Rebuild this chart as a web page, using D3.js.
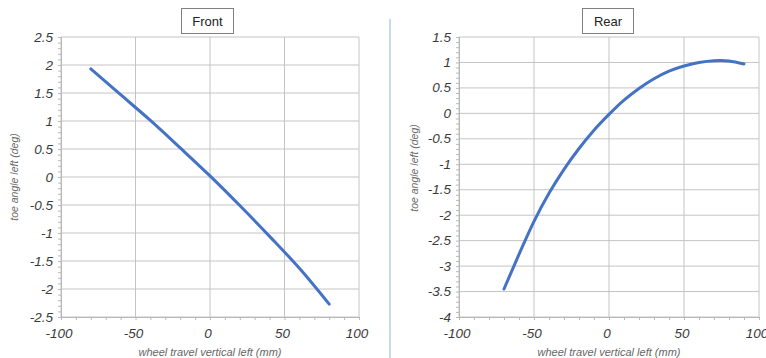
<!DOCTYPE html>
<html>
<head>
<meta charset="utf-8">
<script src="https://cdn.jsdelivr.net/npm/d3@7"></script>
<style>
  body { margin: 0; background: #fff; }
  text { font-family: "Liberation Sans", Arial, sans-serif; }
</style>
</head>
<body>
<script>
// data
var frontTravel = [-80, -60, -40, -20, 0, 20, 40, 60, 80];
var frontToe    = [1.93, 1.47, 1.01, 0.52, 0.02, -0.51, -1.06, -1.63, -2.27];

var rearTravel = [-70, -60, -50, -40, -30, -20, -10, 0, 10, 20, 30, 40, 50, 60, 70, 80, 90];
var rearToe    = [-3.45, -2.77, -2.12, -1.57, -1.1, -0.69, -0.33, -0.02, 0.26, 0.49, 0.68, 0.83, 0.93, 1.0, 1.035, 1.03, 0.97];

var xTicks = [-100, -50, 0, 50, 100];
var frontYTicks = d3.range(-2.5, 2.51, 0.5);
var rearYTicks = d3.range(-4, 1.51, 0.5);

var xLabel = "wheel travel vertical left (mm)";
var yLabel = "toe angle left (deg)";

var width = 766, height = 358;

var svg = d3.select("body").append("svg")
    .attr("width", width)
    .attr("height", height);

// thin blue divider between the two charts
svg.append("line")
    .attr("x1", 390).attr("x2", 390)
    .attr("y1", 19).attr("y2", height)
    .attr("stroke", "#b4cfe8")
    .attr("stroke-width", 1.5);

function drawChart(opt) {
    var x = d3.scaleLinear().domain([-100, 100]).range([opt.left, opt.right]);
    var y = d3.scaleLinear().domain(opt.yDomain).range([opt.bottom, opt.top]);
    var g = svg.append("g");

    // grid
    g.selectAll(".vg").data(xTicks).enter().append("line")
        .attr("x1", d => x(d)).attr("x2", d => x(d))
        .attr("y1", opt.top).attr("y2", opt.bottom)
        .attr("stroke", "#c4c4c4").attr("stroke-width", 1);
    g.selectAll(".hg").data(opt.yTicks).enter().append("line")
        .attr("x1", opt.left).attr("x2", opt.right)
        .attr("y1", d => y(d)).attr("y2", d => y(d))
        .attr("stroke", "#c4c4c4").attr("stroke-width", 1);

    // axes with minor ticks
    var xAxis = d3.axisBottom(x).tickValues(d3.range(-100, 101, 10))
        .tickSize(3).tickFormat("");
    g.append("g").attr("transform", "translate(0," + opt.bottom + ")")
        .call(xAxis)
        .call(a => a.selectAll("line, path").attr("stroke", "#b8b8b8"));

    var yAxis = d3.axisLeft(y).tickValues(d3.range(opt.yDomain[0], opt.yDomain[1] + 0.001, 0.1))
        .tickSize(3).tickFormat("");
    g.append("g").attr("transform", "translate(" + opt.left + ",0)")
        .call(yAxis)
        .call(a => a.selectAll("line, path").attr("stroke", "#b8b8b8"));

    // tick labels
    g.selectAll(".xl").data(xTicks).enter().append("text")
        .attr("x", d => x(d) - 2).attr("y", opt.bottom + 21)
        .attr("text-anchor", "middle")
        .attr("font-size", 13.5).attr("font-style", "italic")
        .attr("fill", "#3a3a3a")
        .text(d => d);
    g.selectAll(".yl").data(opt.yTicks).enter().append("text")
        .attr("x", opt.left - 8).attr("y", d => y(d) + 4.5)
        .attr("text-anchor", "end")
        .attr("font-size", 13.5).attr("font-style", "italic")
        .attr("fill", "#3a3a3a")
        .text(d => +d.toFixed(1));

    // axis titles
    g.append("text")
        .attr("x", (opt.left + opt.right) / 2).attr("y", 356)
        .attr("text-anchor", "middle")
        .attr("font-size", 11).attr("font-style", "italic")
        .attr("fill", "#666")
        .text(xLabel);
    g.append("text")
        .attr("transform", "translate(" + opt.yLabelX + "," + opt.yLabelY + ") rotate(-90)")
        .attr("text-anchor", "middle")
        .attr("font-size", 10.5).attr("font-style", "italic")
        .attr("fill", "#666")
        .text(yLabel);

    // title box
    var tb = g.append("g");
    tb.append("rect")
        .attr("x", opt.titleX).attr("y", 8.5)
        .attr("width", opt.titleW).attr("height", 25)
        .attr("fill", "#fff").attr("stroke", "#808080").attr("stroke-width", 1);
    tb.append("text")
        .attr("x", opt.titleX + opt.titleW / 2).attr("y", 25.5)
        .attr("text-anchor", "middle")
        .attr("font-size", 13).attr("fill", "#222")
        .text(opt.title);

    // data line
    var line = d3.line()
        .x(d => x(d[0]))
        .y(d => y(d[1]))
        .curve(d3.curveCatmullRom);
    g.append("path")
        .datum(d3.zip(opt.xs, opt.ys))
        .attr("d", line)
        .attr("fill", "none")
        .attr("stroke", "#4472c4")
        .attr("stroke-width", 3)
        .attr("stroke-linecap", "round");
}

drawChart({
    left: 61, right: 359, top: 37, bottom: 317,
    yDomain: [-2.5, 2.5], yTicks: frontYTicks,
    xs: frontTravel, ys: frontToe,
    title: "Front", titleX: 181.5, titleW: 52,
    yLabelX: 18, yLabelY: 177
});

drawChart({
    left: 459, right: 759, top: 37, bottom: 317,
    yDomain: [-4, 1.5], yTicks: rearYTicks,
    xs: rearTravel, ys: rearToe,
    title: "Rear", titleX: 582.5, titleW: 51,
    yLabelX: 418, yLabelY: 168
});
</script>
</body>
</html>
